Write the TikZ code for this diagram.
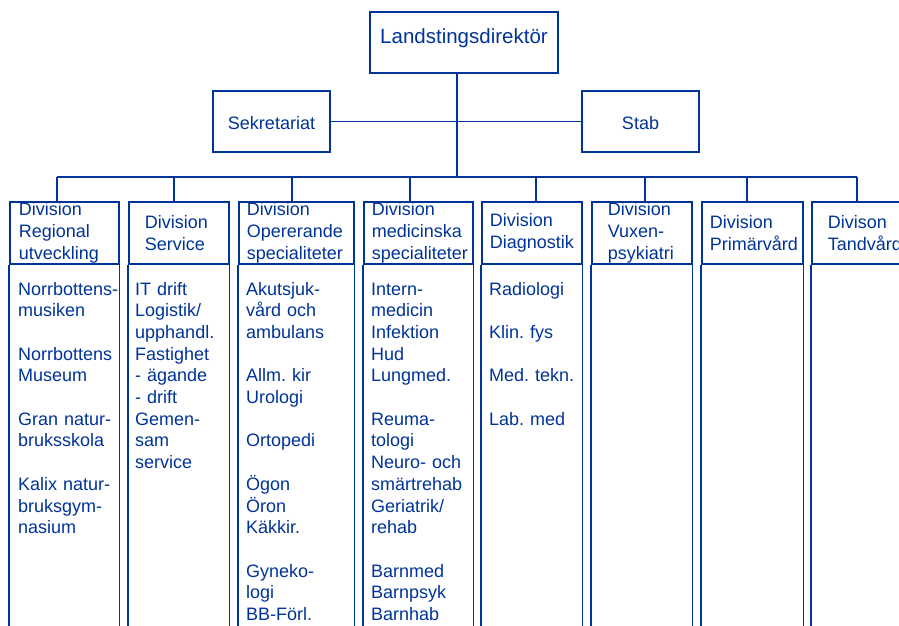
\documentclass[tikz,border=0pt]{standalone}
\usepackage{fontspec}
\setmainfont{Liberation Sans}
\usepackage{tikz}
\usetikzlibrary{positioning}
\hyphenpenalty=10000
\exhyphenpenalty=10000
\frenchspacing
\definecolor{orgblue}{RGB}{0,51,153}
\tikzset{box/.style={draw=orgblue,line width=1.6pt,rectangle,inner sep=0pt,minimum height=61pt,text=orgblue},
  head/.style={draw=orgblue,line width=1.6pt,rectangle,anchor=north west,inner ysep=0pt,minimum height=62pt,align=left,text=orgblue,font=\fontsize{18}{21.7}\selectfont},
  list/.style={anchor=base west,inner sep=0pt,align=left,text width=110pt,text=orgblue,font=\fontsize{18}{21.7}\selectfont},
  conn/.style={draw=orgblue,line width=1.1pt},
  frame/.style={draw=orgblue,line width=1.6pt}}

\begin{document}
\begin{tikzpicture}[x=1pt,y=-1pt]
  \clip (0,0) rectangle (899,626);
  \node (dir) [box,minimum width=188pt,text height=15pt,text depth=12pt,font=\fontsize{20.5}{24}\selectfont] at (464,42.5) {Landstingsdirektör};
  \node (sek) [box,minimum width=117pt,text height=19pt,text depth=4pt,font=\fontsize{18}{21.7}\selectfont] at (271.5,121.5) {Sekretariat};
  \node (stab) [box,minimum width=117pt,text height=19pt,text depth=4pt,font=\fontsize{18}{21.7}\selectfont] at (640.5,121.5) {Stab};
  \node (hd1) [head,minimum width=109pt,text width=91pt,inner xsep=9pt] at (9,201) {Division\\Regional\\utveckling};
  \node (hd2) [head,minimum width=100pt,text width=68pt,inner xsep=16pt] at (128,201) {Division\\Service};
  \node (hd3) [head,minimum width=115pt,text width=99pt,inner xsep=8pt] at (238,201) {Division\\Opererande\\specialiteter};
  \node (hd4) [head,minimum width=109pt,text width=93pt,inner xsep=8pt] at (363,201) {Division\\medicinska\\specialiteter};
  \node (hd5) [head,minimum width=100pt,text width=84pt,inner xsep=8pt] at (481,201) {Division\\Diagnostik};
  \node (hd6) [head,minimum width=100pt,text width=68pt,inner xsep=16pt] at (591,201) {Division\\Vuxen-\\psykiatri};
  \node (hd7) [head,minimum width=101pt,text width=85pt,inner xsep=8pt] at (701,201) {Division\\Primärvård};
  \node (hd8) [head,minimum width=100pt,text width=68pt,inner xsep=16pt] at (811,201) {Divison\\Tandvård};
  \node (tx1) [list] at (18,295) {Norrbottens-\\musiken\\[21.7pt]Norrbottens\\Museum\\[21.7pt]Gran natur-\\bruksskola\\[21.7pt]Kalix natur-\\bruksgym-\\nasium};
  \node (tx2) [list] at (135,295) {IT drift\\Logistik/\\upphandl.\\Fastighet\\- ägande\\- drift\\Gemen-\\sam\\service};
  \node (tx3) [list] at (246,295) {Akutsjuk-\\vård och\\ambulans\\[21.7pt]Allm. kir\\Urologi\\[21.7pt]Ortopedi\\[21.7pt]Ögon\\Öron\\Käkkir.\\[21.7pt]Gyneko-\\logi\\BB-Förl.};
  \node (tx4) [list] at (371,295) {Intern-\\medicin\\Infektion\\Hud\\Lungmed.\\[21.7pt]Reuma-\\tologi\\Neuro- och\\smärtrehab\\Geriatrik/\\rehab\\[21.7pt]Barnmed\\Barnpsyk\\Barnhab};
  \node (tx5) [list] at (489,295) {Radiologi\\[21.7pt]Klin. fys\\[21.7pt]Med. tekn.\\[21.7pt]Lab. med};
  \coordinate (bus) at (457,177);
  \foreach \i/\x in {1/57,2/174,3/292,4/410,5/536,6/645,7/747,8/857}
    \coordinate (t\i) at (\x,177);
  \draw [conn] (sek) -- (stab);
  \draw [conn] (dir.south -| bus) -- (bus);
  \draw [conn] (t1) -- (t8);
  \foreach \i in {1,...,8}
    \draw [conn] (t\i) -- (t\i |- hd\i.north);
  \foreach \i in {1,...,8}
    \draw [frame] (hd\i.south west) -- ++(0,400) (hd\i.south east) -- ++(0,400);
\end{tikzpicture}
\end{document}
